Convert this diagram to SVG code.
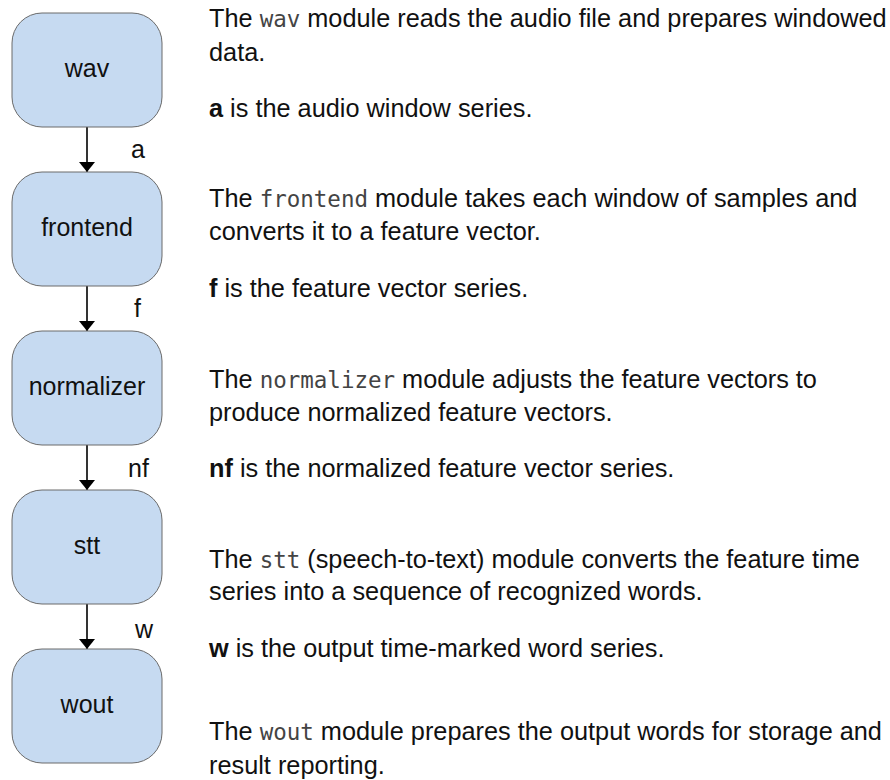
<svg xmlns="http://www.w3.org/2000/svg" width="890" height="780" viewBox="0 0 890 780">
  <style>
    .node rect { fill: #c6daf1; stroke: #6b6b6b; stroke-width: 1; }
    .node text { font-family: "Liberation Sans", Arial, sans-serif; font-size: 25px; fill: #111; text-anchor: middle; }
    .edge line { stroke: #000; stroke-width: 1.6; }
    .lbl { font-family: "Liberation Sans", Arial, sans-serif; font-size: 25px; fill: #111; }
    .desc { font-family: "Liberation Sans", Arial, sans-serif; font-size: 25.3px; fill: #111; }
    .code { font-family: "DejaVu Sans Mono", "Liberation Mono", monospace; font-size: 22.5px; fill: #444; }
    .b { font-weight: bold; }
  </style>
  <defs>
    <marker id="head" markerUnits="userSpaceOnUse" markerWidth="12" markerHeight="18" refX="10" refY="8" orient="auto">
      <path d="M0,0 L10,8 L0,16 z" fill="#000"/>
    </marker>
  </defs>

  <!-- connectors with their series labels -->
  <g id="connectors" class="edge">
    <line x1="87" y1="127" x2="87" y2="172" marker-end="url(#head)"/>
    <line x1="87" y1="286" x2="87" y2="331" marker-end="url(#head)"/>
    <line x1="87" y1="445" x2="87" y2="490" marker-end="url(#head)"/>
    <line x1="87" y1="604" x2="87" y2="649" marker-end="url(#head)"/>
    <text class="lbl" x="131" y="158">a</text>
    <text class="lbl" x="134" y="317">f</text>
    <text class="lbl" x="128" y="477">nf</text>
    <text class="lbl" x="135" y="638">w</text>
  </g>

  <!-- processing modules -->
  <g id="wav" class="node">
    <rect x="12" y="13" width="150" height="114" rx="30" ry="30"/>
    <text x="87" y="77">wav</text>
  </g>
  <g id="frontend" class="node">
    <rect x="12" y="172" width="150" height="114" rx="30" ry="30"/>
    <text x="87" y="236">frontend</text>
  </g>
  <g id="normalizer" class="node">
    <rect x="12" y="331" width="150" height="114" rx="30" ry="30"/>
    <text x="87" y="395">normalizer</text>
  </g>
  <g id="stt" class="node">
    <rect x="12" y="490" width="150" height="114" rx="30" ry="30"/>
    <text x="87" y="554">stt</text>
  </g>
  <g id="wout" class="node">
    <rect x="12" y="649" width="150" height="114" rx="30" ry="30"/>
    <text x="87" y="713">wout</text>
  </g>

  <!-- module descriptions -->
  <g id="notes" class="desc">
    <text x="209" y="27">The <tspan class="code">wav</tspan> module reads the audio file and prepares windowed</text>
    <text x="209" y="61">data.</text>
    <text x="209" y="117"><tspan class="b">a</tspan> is the audio window series.</text>

    <text x="209" y="207">The <tspan class="code">frontend</tspan> module takes each window of samples and</text>
    <text x="209" y="240">converts it to a feature vector.</text>
    <text x="209" y="297"><tspan class="b">f</tspan> is the feature vector series.</text>

    <text x="209" y="388">The <tspan class="code">normalizer</tspan> module adjusts the feature vectors to</text>
    <text x="209" y="421">produce normalized feature vectors.</text>
    <text x="209" y="477"><tspan class="b">nf</tspan> is the normalized feature vector series.</text>

    <text x="209" y="568">The <tspan class="code">stt</tspan> (speech-to-text) module converts the feature time</text>
    <text x="209" y="600">series into a sequence of recognized words.</text>
    <text x="209" y="657"><tspan class="b">w</tspan> is the output time-marked word series.</text>

    <text x="209" y="740">The <tspan class="code">wout</tspan> module prepares the output words for storage and</text>
    <text x="209" y="774">result reporting.</text>
  </g>
</svg>
